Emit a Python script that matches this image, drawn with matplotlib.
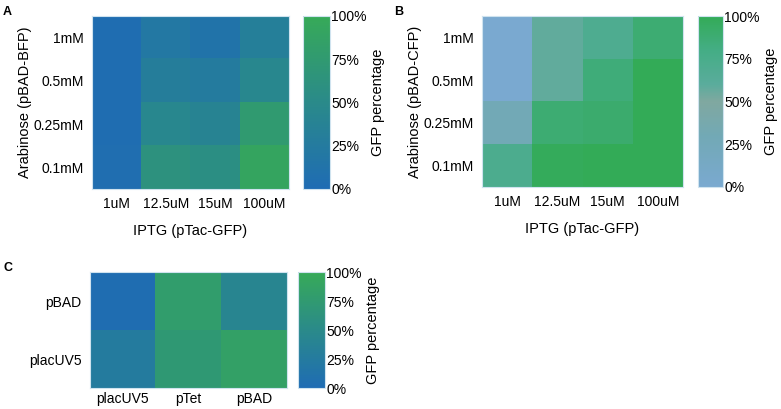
import numpy as np
import matplotlib.pyplot as plt
from matplotlib.colors import LinearSegmentedColormap

plt.rcParams['font.family'] = ['Liberation Sans', 'DejaVu Sans']

# Panel A / B: arabinose (rows) vs IPTG (columns)
iptg = ['1uM', '12.5uM', '15uM', '100uM']
arabinose = ['1mM', '0.5mM', '0.25mM', '0.1mM']

gfp_a = [[3, 20, 13, 32],
         [3, 30, 25, 45],
         [3, 45, 40, 75],
         [5, 62, 57, 92]]

gfp_b = [[0, 58, 70, 88],
         [0, 58, 85, 100],
         [28, 88, 90, 100],
         [72, 98, 100, 100]]

# Panel C: promoter combinations
promoters_x = ['placUV5', 'pTet', 'pBAD']
promoters_y = ['pBAD', 'placUV5']
gfp_c = [[3, 80, 42],
         [25, 72, 85]]

cmap_ac = LinearSegmentedColormap.from_list('ac', ['#1f6cb4', '#2a8a8a', '#37aa58'])
cmap_b = LinearSegmentedColormap.from_list(
    'b', [(0, '#7aa9d0'), (0.3, '#72a9b5'), (0.5, '#80a8a0'),
          (0.6, '#5aac9c'), (0.8, '#44ad85'), (1, '#33ab57')])

fig = plt.figure(figsize=(7.81, 4.09), dpi=100)


def heatmap(rect, cbrect, data, xlabels, ylabels, cmap, xlabel=None, ylabel=None, xpad=6):
    ax = fig.add_axes(rect)
    im = ax.imshow(np.array(data), cmap=cmap, vmin=0, vmax=100, aspect='auto')
    ax.set_xticks(range(len(xlabels)))
    ax.set_xticklabels(xlabels, fontsize=10)
    ax.set_yticks(range(len(ylabels)))
    ax.set_yticklabels(ylabels, fontsize=10)
    ax.tick_params(length=0, pad=6)
    ax.tick_params(axis='x', pad=xpad)
    for s in ax.spines.values():
        s.set_color('#cfe3ef')
        s.set_linewidth(0.8)
    if xlabel:
        ax.set_xlabel(xlabel, fontsize=10.5, labelpad=9)
    if ylabel:
        ax.set_ylabel(ylabel, fontsize=10.5, labelpad=1)
    cax = fig.add_axes(cbrect)
    cb = fig.colorbar(im, cax=cax, ticks=[0, 25, 50, 75, 100])
    cb.ax.set_yticklabels(['0%', '25%', '50%', '75%', '100%'], fontsize=10)
    cb.ax.tick_params(length=0, pad=1)
    cb.outline.set_color('#cfe3ef')
    cb.set_label('GFP percentage', fontsize=10.5, labelpad=3)
    return ax


heatmap([0.1178, 0.5379, 0.2522, 0.423], [0.388, 0.5379, 0.0346, 0.423],
        gfp_a, iptg, arabinose, cmap_ac, 'IPTG (pTac-GFP)', 'Arabinose (pBAD-BFP)')
heatmap([0.6172, 0.5428, 0.2574, 0.418], [0.8937, 0.5428, 0.032, 0.418],
        gfp_b, iptg, arabinose, cmap_b, 'IPTG (pTac-GFP)', 'Arabinose (pBAD-CFP)')
heatmap([0.1152, 0.0513, 0.2522, 0.2836], [0.3815, 0.0513, 0.0346, 0.2836],
        gfp_c, promoters_x, promoters_y, cmap_ac, xpad=3)

fig.text(0.004, 0.985, 'A', fontsize=9, fontweight='bold', va='top')
fig.text(0.505, 0.985, 'B', fontsize=9, fontweight='bold', va='top')
fig.text(0.004, 0.36, 'C', fontsize=9, fontweight='bold', va='top')

fig.savefig('out.png', dpi=100)
